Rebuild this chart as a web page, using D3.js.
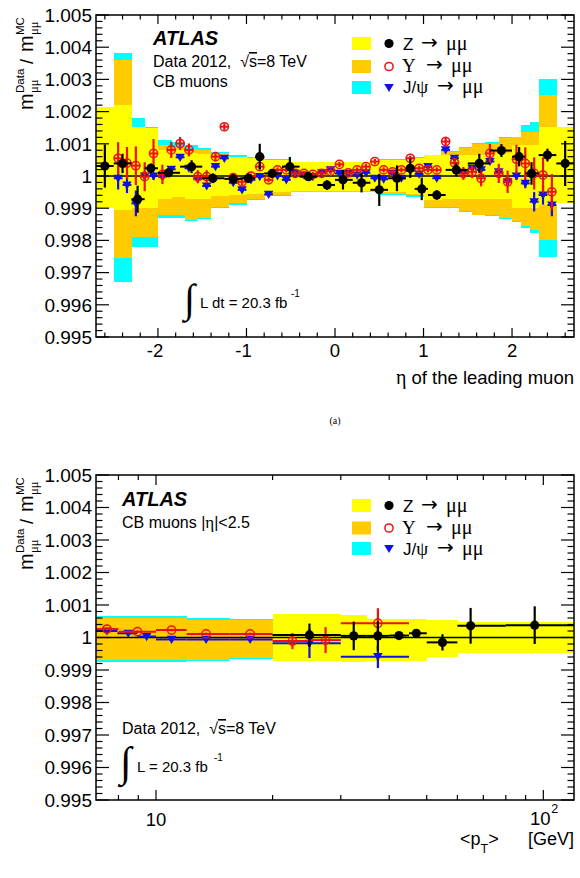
<!DOCTYPE html>
<html><head><meta charset="utf-8">
<script src="https://cdn.jsdelivr.net/npm/d3@7"></script>
<style>body{margin:0;background:#fff}svg{display:block}</style>
</head><body>
<svg id="c" width="580" height="878"></svg>
<script>
// ---------------- DATA (deviations from unity in units of 1e-3) ----------------
// Top panel: eta of the leading muon
const etaZ    = [-2.6,-2.4,-2.23,-2.08,-1.88,-1.62,-1.38,-1.15,-0.98,-0.85,-0.71,-0.51,-0.30,-0.09,0.09,0.30,0.50,0.70,0.85,0.98,1.15,1.37,1.63,1.88,2.08,2.22,2.40,2.60];
const etaZLo  = [-2.7,-2.5,-2.3,-2.15,-2.0,-1.75,-1.5,-1.25,-1.05,-0.9,-0.8,-0.6,-0.4,-0.2,0,0.2,0.4,0.6,0.8,0.9,1.05,1.25,1.5,1.75,2.0,2.15,2.3,2.5];
const etaZHi  = [-2.5,-2.3,-2.15,-2.0,-1.75,-1.5,-1.25,-1.05,-0.9,-0.8,-0.6,-0.4,-0.2,0,0.2,0.4,0.6,0.8,0.9,1.05,1.25,1.5,1.75,2.0,2.15,2.3,2.5,2.7];
const zDevEta = [0.31,0.39,-0.72,0.24,0.10,0.29,-0.07,-0.09,-0.07,0.60,0.08,0.29,-0.02,-0.28,-0.12,-0.21,-0.43,-0.07,0.24,-0.40,-0.59,0.19,0.39,0.79,0.60,0.08,0.65,0.39];
const zErrEta = [0.67,0.30,0.42,0.15,0.10,0.20,0.15,0.15,0.15,0.40,0.10,0.30,0.10,0.15,0.30,0.30,0.50,0.40,0.30,0.35,0.15,0.20,0.30,0.20,0.30,0.35,0.20,0.70];

const etaUJ = [-2.45,-2.35,-2.25,-2.15,-2.05,-1.95,-1.85,-1.75,-1.65,-1.55,-1.45,-1.35,-1.25,-1.15,-1.05,-0.95,-0.85,-0.75,-0.65,-0.55,-0.45,-0.35,-0.25,-0.15,-0.05,
               0.05,0.15,0.25,0.35,0.45,0.55,0.65,0.75,0.85,0.95,1.05,1.15,1.25,1.35,1.45,1.55,1.65,1.75,1.85,1.95,2.05,2.15,2.25,2.35,2.45];
const uDevEta = [0.55,0.40,0.32,-0.02,0.70,0.05,0.81,1.01,0.81,-0.02,-0.02,0.60,1.53,-0.05,-0.18,0.00,0.29,-0.12,0.19,0.19,0.08,0.08,0.05,0.08,0.15,
                 0.36,0.10,0.19,0.29,0.45,0.19,0.13,0.19,0.55,0.24,0.19,0.19,1.07,0.41,0.08,0.13,-0.07,0.70,0.08,-0.18,0.52,0.39,0.08,0.03,-0.49];
const uErrEta = [0.50,0.50,0.60,0.45,0.45,0.30,0.25,0.20,0.20,0.20,0.20,0.15,0.10,0.10,0.10,0.08,0.08,0.08,0.08,0.08,0.08,0.08,0.08,0.08,0.08,
                 0.08,0.08,0.08,0.08,0.08,0.08,0.08,0.08,0.08,0.08,0.08,0.08,0.15,0.15,0.20,0.20,0.25,0.30,0.30,0.35,0.45,0.50,0.50,0.55,0.55];
const jDevEta = [-0.07,-0.28,-0.85,0.00,0.00,-0.02,0.21,0.58,0.24,-0.10,-0.31,0.29,0.55,-0.21,-0.43,-0.12,-0.02,-0.57,0.00,-0.12,0.08,0.03,-0.02,0.10,0.19,
                 0.08,0.08,0.03,0.10,-0.07,-0.10,0.08,-0.07,0.16,0.06,0.29,-0.07,0.81,0.55,0.10,0.24,0.19,0.45,0.13,-0.18,0.00,-0.23,-0.80,-0.59,-0.90];
const jErrEta = [0.35,0.25,0.40,0.15,0.12,0.10,0.06,0.06,0.06,0.06,0.06,0.06,0.06,0.06,0.06,0.06,0.06,0.06,0.06,0.06,0.06,0.06,0.06,0.06,0.06,
                 0.06,0.06,0.06,0.06,0.06,0.06,0.06,0.06,0.06,0.06,0.06,0.06,0.06,0.06,0.06,0.06,0.06,0.06,0.06,0.10,0.12,0.15,0.30,0.30,0.35];

// systematic bands vs eta
const bandEdgesEta = [-2.7,-2.5,-2.3,-2.15,-2.0,-1.85,-1.7,-1.55,-1.4,-1.2,-1.0,-0.8,-0.5,0,0.5,0.8,1.0,1.2,1.4,1.55,1.7,1.85,2.0,2.1,2.2,2.3,2.5,2.7];
const zBandLoEta = [-1.0,-1.05,-1.0,-1.0,-0.7,-0.65,-0.7,-0.7,-0.62,-0.6,-0.55,-0.5,-0.48,-0.48,-0.5,-0.55,-0.75,-0.7,-0.7,-0.7,-0.72,-0.72,-1.0,-1.0,-1.0,-0.9,-0.85];
const zBandHiEta = [2.15,2.2,1.53,1.5,0.8,0.8,0.7,0.68,0.6,0.58,0.55,0.5,0.45,0.45,0.5,0.55,0.65,0.65,0.65,0.65,0.7,0.7,0.95,0.95,0.95,1.53,1.53];
const uBandLoEta = [null,-2.55,-1.9,-1.9,-1.21,-1.21,-1.37,-1.3,-0.95,-0.85,-0.7,-0.6,-0.5,-0.5,-0.55,-0.6,-0.95,-0.95,-1.1,-1.2,-1.2,-1.3,-1.4,-1.55,-1.68,-1.99,null];
const uBandHiEta = [null,3.6,1.5,1.45,0.95,0.9,0.85,0.8,0.7,0.6,0.55,0.5,0.42,0.42,0.5,0.55,0.6,0.75,0.86,1.0,1.0,1.17,1.2,1.38,1.38,2.52,null];
const jBandLoEta = [null,-3.3,-2.2,-2.2,-1.3,-1.3,-1.4,-1.35,-1.0,-0.9,-0.75,-0.62,-0.5,-0.5,-0.58,-0.65,-0.98,-1.0,-1.12,-1.22,-1.25,-1.32,-1.42,-1.6,-1.78,-2.5,null];
const jBandHiEta = [null,3.82,1.79,1.53,1.12,1.05,0.95,0.88,0.75,0.65,0.6,0.52,0.45,0.45,0.52,0.6,0.65,0.78,0.9,1.02,1.05,1.2,1.22,1.58,1.69,3.0,null];

// Bottom panel: <pT> [GeV]
const ptJ    = [7.47,8.48,9.46,10.97,13.47,17.5,24.9,37.4];
const ptJLo  = [7,7.95,8.95,10,12,15.5,20,30];
const ptJHi  = [7.95,8.95,10,12,15.5,20,30,45];
const jDevPt = [0.20,0.13,0.03,-0.06,-0.06,-0.06,-0.18,-0.59];
const jErrPt = [0.04,0.04,0.04,0.04,0.04,0.04,0.45,0.35];

const ptU    = [7.47,8.96,10.97,13.47,17.5,22.5,27.4,37.4];
const ptULo  = [7,8,10,12,15.5,20,25,30];
const ptUHi  = [8,10,12,15.5,20,25,30,45];
const uDevPt = [0.26,0.18,0.23,0.11,0.11,-0.11,-0.08,0.44];
const uErrPt = [0.04,0.04,0.04,0.04,0.04,0.25,0.40,0.46];

const ptZ    = [24.9,32.4,37.4,42.4,47.0,54.9,64.9,95];
const ptZLo  = [20,30,35,40,45,50,60,80];
const ptZHi  = [30,35,40,45,50,60,80,120];
const zDevPt = [0.08,0.05,0.05,0.06,0.13,-0.15,0.36,0.38];
const zErrPt = [0.35,0.44,0.45,0.05,0.05,0.25,0.55,0.58];

const bandEdgesPtUJ = [7,12,15.5,20];
const uBandLoPt = [-0.69,-0.69,-0.62];
const uBandHiPt = [0.60,0.55,0.54];
const jBandLoPt = [-0.74,-0.73,-0.66];
const jBandHiPt = [0.65,0.60,0.58];
const bandEdgesPtZ = [20,30,35,50,60,120];
const zBandLoPt = [-0.72,-0.74,-0.72,-0.59,-0.49];
const zBandHiPt = [0.72,0.70,0.58,0.54,0.49];

// axis ticks / labels
const yTickVals = [0.995,0.996,0.997,0.998,0.999,1.000,1.001,1.002,1.003,1.004,1.005];
const yTickLabels = ["0.995","0.996","0.997","0.998","0.999","1","1.001","1.002","1.003","1.004","1.005"];
const etaTickVals = [-2,-1,0,1,2];
const etaTickLabels = ["-2","-1","0","1","2"];
const ptMajorVals = [10,100];

// ---------------- DRAWING ----------------
const SANS = "'Liberation Sans', Arial, Helvetica, sans-serif";
const SERIF = "'Liberation Serif', 'Times New Roman', serif";
const ARROW = "'DejaVu Sans', sans-serif";
const C_Y = "#ffff00", C_O = "#ffcc00", C_C = "#00ffff";
const RED = "#ee1111", BLUE = "#1010e6";
const NB = "\u00a0";
const svg = d3.select("#c");
svg.append("rect").attr("width",580).attr("height",878).attr("fill","#fff");
const r = d => 1 + d/1000;

const X0 = 96, X1 = 574;
const panels = [
  {id:"top", x: d3.scaleLinear().domain([-2.7,2.7]).range([X0,X1]),
   y: d3.scaleLinear().domain([0.995,1.005]).range([337,15])},
  {id:"bot", x: d3.scaleLog().domain([7,120]).range([X0,X1]),
   y: d3.scaleLinear().domain([0.995,1.005]).range([800,475])}
];

panels.forEach(p => {
  const [ya, yb] = p.y.range();
  svg.append("clipPath").attr("id","clip-"+p.id)
    .append("rect").attr("x",X0).attr("y",yb).attr("width",X1-X0).attr("height",ya-yb);
  p.g = svg.append("g").attr("clip-path",`url(#clip-${p.id})`);
});

function drawBand(p, edges, lo, hi, color){
  const data = lo.map((l,i)=>({x0:edges[i],x1:edges[i+1],lo:l,hi:hi[i]})).filter(d=>d.lo!==null);
  p.g.append("g").selectAll("rect").data(data).join("rect")
    .attr("x",d=>p.x(d.x0)).attr("width",d=>p.x(d.x1)-p.x(d.x0)+0.4)
    .attr("y",d=>p.y(r(d.hi))).attr("height",d=>p.y(r(d.lo))-p.y(r(d.hi)))
    .attr("fill",color).attr("shape-rendering","crispEdges");
}
function refLine(p){
  p.g.append("line").attr("x1",X0).attr("x2",X1).attr("y1",p.y(1)).attr("y2",p.y(1))
    .attr("stroke","#000").attr("stroke-width",1.3);
}
function drawPoints(p, xs, xlo, xhi, dev, err, type){
  const col = type==="z" ? "#000" : type==="u" ? RED : BLUE;
  const g = p.g.append("g");
  const data = xs.map((x,i)=>({x, lo:xlo[i], hi:xhi[i], v:r(dev[i]), e:err[i]/1000}));
  g.selectAll("line.h").data(data).join("line").attr("class","h")
    .attr("x1",d=>p.x(d.lo)).attr("x2",d=>p.x(d.hi)).attr("y1",d=>p.y(d.v)).attr("y2",d=>p.y(d.v))
    .attr("stroke",col).attr("stroke-width",2);
  g.selectAll("line.v").data(data).join("line").attr("class","v")
    .attr("x1",d=>p.x(d.x)).attr("x2",d=>p.x(d.x)).attr("y1",d=>p.y(d.v+d.e)).attr("y2",d=>p.y(d.v-d.e))
    .attr("stroke",col).attr("stroke-width",2.2);
  drawMarkers(g, data.map(d=>[p.x(d.x),p.y(d.v)]), type);
}
function drawMarkers(g, pts, type){
  if(type==="z"){
    g.selectAll("circle.m").data(pts).join("circle").attr("class","m")
      .attr("cx",d=>d[0]).attr("cy",d=>d[1]).attr("r",4.6).attr("fill","#000");
  } else if(type==="u"){
    g.selectAll("circle.m").data(pts).join("circle").attr("class","m")
      .attr("cx",d=>d[0]).attr("cy",d=>d[1]).attr("r",4.1).attr("fill","none")
      .attr("stroke",RED).attr("stroke-width",1.5);
  } else {
    g.selectAll("path.m").data(pts).join("path").attr("class","m")
      .attr("d",d=>`M${d[0]-4.8},${d[1]-3.6}L${d[0]+4.8},${d[1]-3.6}L${d[0]},${d[1]+4.6}Z`)
      .attr("fill",BLUE);
  }
}

// ---- top panel contents
const T = panels[0], B = panels[1];
drawBand(T, bandEdgesEta, jBandLoEta, jBandHiEta, C_C);
drawBand(T, bandEdgesEta, uBandLoEta, uBandHiEta, C_O);
drawBand(T, bandEdgesEta, zBandLoEta, zBandHiEta, C_Y);
refLine(T);
const halfUJ = 0.05;
drawPoints(T, etaUJ, etaUJ.map(e=>e-halfUJ), etaUJ.map(e=>e+halfUJ), jDevEta, jErrEta, "j");
drawPoints(T, etaUJ, etaUJ.map(e=>e-halfUJ), etaUJ.map(e=>e+halfUJ), uDevEta, uErrEta, "u");
drawPoints(T, etaZ, etaZLo, etaZHi, zDevEta, zErrEta, "z");

// ---- bottom panel contents
drawBand(B, bandEdgesPtUJ, jBandLoPt, jBandHiPt, C_C);
drawBand(B, bandEdgesPtUJ, uBandLoPt, uBandHiPt, C_O);
drawBand(B, bandEdgesPtZ, zBandLoPt, zBandHiPt, C_Y);
refLine(B);
drawPoints(B, ptJ, ptJLo, ptJHi, jDevPt, jErrPt, "j");
drawPoints(B, ptU, ptULo, ptUHi, uDevPt, uErrPt, "u");
drawPoints(B, ptZ, ptZLo, ptZHi, zDevPt, zErrPt, "z");

// ---- frames and ticks
panels.forEach(p => {
  const [ya, yb] = p.y.range();
  const a = svg.append("g").attr("stroke","#000").attr("fill","none");
  a.append("rect").attr("x",X0).attr("y",yb).attr("width",X1-X0).attr("height",ya-yb).attr("stroke-width",1.5);
  const yMinor = d3.range(0,51).map(i=>0.995+i*0.0002);
  yMinor.forEach((v,i)=>{
    const major = i%5===0; const len = major?13:6.5; const yy = p.y(v);
    a.append("line").attr("x1",X0).attr("x2",X0+len).attr("y1",yy).attr("y2",yy).attr("stroke-width",1.2);
    a.append("line").attr("x1",X1).attr("x2",X1-len).attr("y1",yy).attr("y2",yy).attr("stroke-width",1.2);
  });
  svg.append("g").selectAll("text").data(yTickVals).join("text")
    .attr("x",92).attr("y",d=>p.y(d)).attr("dy","0.36em").attr("text-anchor","end")
    .attr("font-family",SANS).attr("font-size",19).text((d,i)=>yTickLabels[i]);
  let xt;
  if(p.id==="top"){
    xt = d3.range(-13,14).map(i=>({v:i*0.2, major: i%5===0}));
  } else {
    xt = [8,9,10,20,30,40,50,60,70,80,90,100].map(v=>({v, major: ptMajorVals.includes(v)}));
  }
  const lmaj = p.id==="top"?9:10, lmin = p.id==="top"?4.5:5;
  xt.forEach(t=>{
    const xx = p.x(t.v); const len = t.major?lmaj:lmin;
    a.append("line").attr("x1",xx).attr("x2",xx).attr("y1",ya).attr("y2",ya-len).attr("stroke-width",1.2);
    a.append("line").attr("x1",xx).attr("x2",xx).attr("y1",yb).attr("y2",yb+len).attr("stroke-width",1.2);
  });
});

// ---- text helpers
function txt(x,y,s,size,opts={}){
  const t = svg.append("text").attr("x",x).attr("y",y).attr("font-family",opts.family||SANS)
    .attr("font-size",size).attr("fill",opts.fill||"#000");
  if(opts.anchor) t.attr("text-anchor",opts.anchor);
  if(opts.weight) t.attr("font-weight",opts.weight);
  if(opts.style) t.attr("font-style",opts.style);
  t.text(s); return t;
}

// top x tick labels
etaTickVals.forEach((v,i)=> txt(T.x(v)-(v<0?3:0), 357, etaTickLabels[i], 18.5, {anchor:"middle"}));
{
  const t = svg.append("text").attr("x",574).attr("y",384).attr("text-anchor","end")
    .attr("font-family",SANS).attr("font-size",18.5);
  t.append("tspan").attr("font-family",SERIF).attr("font-size",20).text("η");
  t.append("tspan").text(" of the leading muon");
}
txt(335,424,"(a)",10,{family:SERIF,anchor:"middle"});

// bottom x tick labels
txt(B.x(10),826,"10",18.5,{anchor:"middle"});
txt(B.x(100)-3,825,"10",18.5,{anchor:"middle"});
txt(B.x(100)+8,813,"2",12.5);
{
  const t = svg.append("text").attr("x",460).attr("y",845).attr("font-family",SANS).attr("font-size",18);
  t.append("tspan").text("<p");
  t.append("tspan").attr("font-size",12.5).attr("dy",8).text("T");
  t.append("tspan").attr("dy",-8).text(">");
  txt(574,845,"[GeV]",18,{anchor:"end"});
}

// y axis titles
function yTitle(cy){
  const g = svg.append("g").attr("transform",`translate(33,${cy+48}) rotate(-90)`);
  const add = (x,y,s,size,fam)=> g.append("text").attr("x",x).attr("y",y).attr("font-family",fam||SANS).attr("font-size",size).text(s);
  add(0,0,"m",20);
  add(17,-9,"Data",11.5);
  add(17,5,"μμ",12.5,SERIF);
  add(46,0,"/",18);
  add(58,0,"m",20);
  add(75,-9,"MC",11.5);
  add(75,5,"μμ",12.5,SERIF);
}
yTitle(62);
yTitle(522);

// labels
function sqrtS(x,y){
  const t = svg.append("text").attr("x",x).attr("y",y).attr("font-family",SANS).attr("font-size",16);
  t.append("tspan").text("Data 2012," + NB + NB + "√");
  t.append("tspan").attr("style","text-decoration:overline").text("s");
  t.append("tspan").text("=8 TeV");
}
txt(153,45,"ATLAS",20,{weight:"bold",style:"italic"});
sqrtS(153,67);
txt(153,87,"CB muons",16);

txt(122,506,"ATLAS",20,{weight:"bold",style:"italic"});
{
  const t = svg.append("text").attr("x",122).attr("y",528).attr("font-family",SANS).attr("font-size",16);
  t.append("tspan").text("CB muons |");
  t.append("tspan").attr("font-family",SERIF).attr("font-size",17).text("η");
  t.append("tspan").text("|<2.5");
}
sqrtS(122,734);

// luminosity
txt(184,312,"∫",40,{family:SERIF});
txt(200,308,"L dt = 20.3 fb",15);
txt(291,297,"-1",10);
txt(120,776,"∫",42,{family:SERIF});
txt(137,772,"L = 20.3 fb",15);
txt(214,761,"-1",10);

// legends
function legend(rowY, boxY){
  const cols = [C_Y, C_O, C_C];
  const types = ["z","u","j"];
  cols.forEach((c,i)=>{
    svg.append("rect").attr("x",352).attr("y",boxY[i]).attr("width",19).attr("height",13).attr("fill",c);
    drawMarkers(svg.append("g"), [[389, boxY[i]+6.5]], types[i]);
  });
  txt(403,rowY[0],"Z",17);
  txt(421,rowY[0]-1,"→",20,{family:ARROW});
  txt(446,rowY[0],"μμ",20,{family:SERIF});
  txt(402,rowY[1],"Υ",19,{family:SERIF});
  txt(426,rowY[1]-1,"→",20,{family:ARROW});
  txt(451,rowY[1],"μμ",20,{family:SERIF});
  const t = svg.append("text").attr("x",403).attr("y",rowY[2]).attr("font-family",SANS).attr("font-size",17);
  t.append("tspan").text("J/");
  t.append("tspan").attr("font-family",SERIF).attr("font-size",19).text("ψ");
  txt(437,rowY[2]-1,"→",20,{family:ARROW});
  txt(462,rowY[2],"μμ",20,{family:SERIF});
}
legend([50,72,93],[37,60,81]);
legend([512,534,555],[499,521.5,542]);
</script>
</body></html>
